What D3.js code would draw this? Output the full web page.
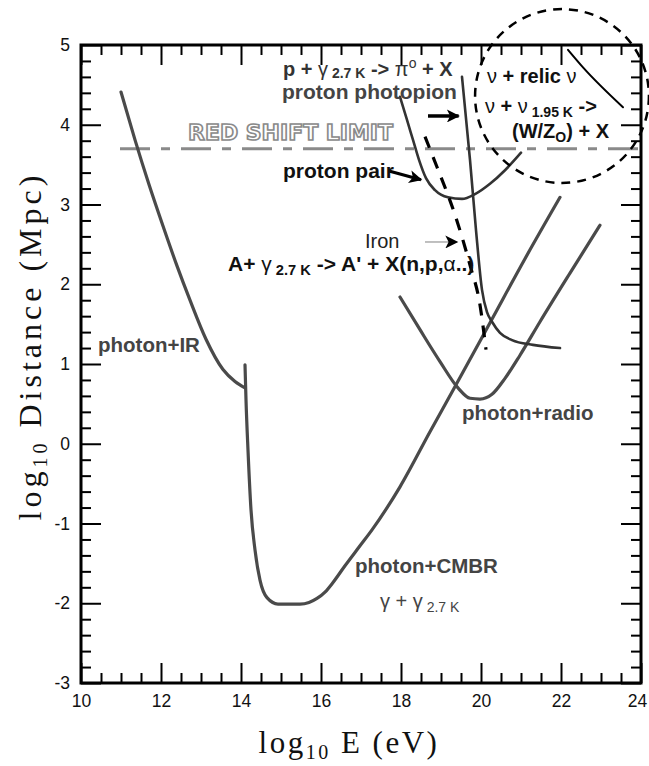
<!DOCTYPE html>
<html><head><meta charset="utf-8">
<script src="https://cdn.jsdelivr.net/npm/d3@7"></script>
<style>body{margin:0;background:#fff} svg{display:block}</style>
</head><body><svg id="c" width="649" height="766"></svg>
<script>
// ---- data (log10 E [eV], log10 Distance [Mpc]) ----
const xTicks = [10,12,14,16,18,20,22,24];
const yTicks = [-3,-2,-1,0,1,2,3,4,5];
const irE  = [11.0,11.35,11.7,12.05,12.4,12.725,13.125,13.55,13.85,14.1];
const irD  = [4.41,3.81,3.25,2.73,2.23,1.80,1.31,0.93,0.78,0.70];
const cmbE = [14.1,14.125,14.175,14.25,14.35,14.475,14.65,14.925,15.475,15.7,15.9,16.1,16.3,16.6,16.975,17.275,17.975,18.725,19.3,20.25,21.1,21.975];
const cmbD = [0.99,0.55,-0.08,-0.83,-1.33,-1.71,-1.93,-2.01,-2.01,-1.99,-1.94,-1.86,-1.74,-1.53,-1.28,-1.08,-0.54,0.15,0.67,1.54,2.32,3.09];
const radE = [17.975,18.475,18.975,19.425,19.725,19.975,20.275,20.6,20.975,21.475,22.225,22.975];
const radD = [1.84,1.43,1.03,0.70,0.57,0.56,0.62,0.82,1.11,1.53,2.14,2.74];
const pairE = [17.975,18.15,18.3,18.45,18.625,18.85,19.175,19.525,19.85,20.225,20.6,21.0];
const pairD = [4.35,4.06,3.81,3.56,3.33,3.18,3.09,3.07,3.13,3.26,3.43,3.65];
const pionE = [19.525,19.725,19.875,20.025,20.15,20.275,20.475,20.775,21.3,21.975];
const pionD = [4.60,3.56,2.68,1.93,1.65,1.53,1.39,1.30,1.24,1.20];
const ironE = [18.6,18.9,19.35,19.725,19.975,20.125];
const ironD = [3.85,3.47,2.87,2.24,1.74,1.18];
const nuE = [22.175,22.55,23.55];
const nuD = [4.94,4.72,4.22];
const redShiftD = 3.7;
const redShiftE = [10.975,24];
const nuCircle = {E:22.025, D:4.36, rD:1.09};

const svg = d3.select('#c');
const m={l:81,r:641,t:45,b:683};
const x = d3.scaleLinear().domain([10,24]).range([m.l,m.r]);
const y = d3.scaleLinear().domain([-3,5]).range([m.b,m.t]);
const sans = '"Liberation Sans", Arial, Helvetica, sans-serif';
const serif = '"Liberation Serif", "Times New Roman", serif';

const defs = svg.append('defs');
defs.append('marker').attr('id','ah2').attr('viewBox','0 0 10 10').attr('refX',9).attr('refY',5)
  .attr('markerWidth',16).attr('markerHeight',13).attr('markerUnits','userSpaceOnUse').attr('orient','auto')
  .append('path').attr('d','M0,0 L10,5 L0,10 L2.5,5 Z').attr('fill','#000');

// axes with inward ticks on all sides
const minorX = d3.range(10,24.01,0.5).filter(v=>Math.abs(v/2-Math.round(v/2))>1e-6);
const minorY = d3.range(-3,5.001,0.2).map(v=>+v.toFixed(2)).filter(v=>Math.abs(v-Math.round(v))>1e-6);
function styleAxis(g){ g.select('.domain').remove(); g.selectAll('line').attr('stroke','#000').attr('stroke-width',2); }
const fmt = d=>String(d);
svg.append('g').attr('transform',`translate(0,${m.b})`)
  .call(d3.axisBottom(x).tickValues(xTicks).tickSize(-20).tickPadding(12).tickFormat(fmt))
  .call(styleAxis).call(g=>g.selectAll('text').attr('font-family',sans).attr('font-size',17.5).attr('fill','#111')
     .filter(d=>d===24).attr('dx',-4));
svg.append('g').attr('transform',`translate(0,${m.b})`).call(d3.axisBottom(x).tickValues(minorX).tickSize(-10).tickFormat(''))
  .call(styleAxis);
svg.append('g').attr('transform',`translate(0,${m.t})`).call(d3.axisTop(x).tickValues(xTicks).tickSize(-20).tickFormat('')).call(styleAxis);
svg.append('g').attr('transform',`translate(0,${m.t})`).call(d3.axisTop(x).tickValues(minorX).tickSize(-10).tickFormat('')).call(styleAxis);
svg.append('g').attr('transform',`translate(${m.l},0)`)
  .call(d3.axisLeft(y).tickValues(yTicks).tickSize(-20).tickPadding(11).tickFormat(fmt))
  .call(styleAxis).call(g=>g.selectAll('text').attr('font-family',sans).attr('font-size',17.5).attr('fill','#111'));
svg.append('g').attr('transform',`translate(${m.l},0)`).call(d3.axisLeft(y).tickValues(minorY).tickSize(-10).tickFormat('')).call(styleAxis);
svg.append('g').attr('transform',`translate(${m.r},0)`).call(d3.axisRight(y).tickValues(yTicks).tickSize(-20).tickFormat('')).call(styleAxis);
svg.append('g').attr('transform',`translate(${m.r},0)`).call(d3.axisRight(y).tickValues(minorY).tickSize(-10).tickFormat('')).call(styleAxis);
svg.append('rect').attr('x',m.l).attr('y',m.t).attr('width',m.r-m.l).attr('height',m.b-m.t)
  .attr('fill','none').attr('stroke','#000').attr('stroke-width',3);

// axis titles
svg.append('text').attr('x',349).attr('y',753).attr('text-anchor','middle')
  .attr('font-family',serif).attr('font-size',31).attr('letter-spacing',2.5).attr('fill','#111')
  .call(t=>{t.append('tspan').text('log');t.append('tspan').attr('font-size',20).attr('dy',6).text('10');
            t.append('tspan').attr('dy',-6).text(' E (eV)');});
svg.append('text').attr('transform','translate(41,346) rotate(-90)').attr('text-anchor','middle')
  .attr('font-family',serif).attr('font-size',32).attr('letter-spacing',4).attr('fill','#111')
  .call(t=>{t.append('tspan').text('log');t.append('tspan').attr('font-size',20).attr('dy',6).text('10');
            t.append('tspan').attr('dy',-6).text(' Distance (Mpc)');});

// red shift limit line + label
svg.append('line').attr('x1',x(redShiftE[0])).attr('x2',x(redShiftE[1])).attr('y1',y(redShiftD)).attr('y2',y(redShiftD))
  .attr('stroke','#8a8a8a').attr('stroke-width',3).attr('stroke-dasharray','30,11,9,11');
svg.append('text').attr('x',x(12.675)).attr('y',y(3.81)).attr('font-family','"DejaVu Sans", sans-serif')
  .attr('font-weight','bold').attr('font-size',21).attr('fill','#fff').attr('stroke','#8a8a8a').attr('stroke-width',1.6)
  .attr('textLength',205).attr('lengthAdjust','spacingAndGlyphs').text('RED SHIFT LIMIT');

// curves
const line = d3.line().x(d=>x(d[0])).y(d=>y(d[1])).curve(d3.curveMonotoneX);
const zip=(a,b)=>a.map((v,i)=>[v,b[i]]);
function curve(E,D,color,w,dash){
  const p=svg.append('path').attr('d',line(zip(E,D))).attr('fill','none').attr('stroke',color)
   .attr('stroke-width',w).attr('stroke-linecap','round').attr('stroke-linejoin','round');
  if(dash) p.attr('stroke-dasharray',dash).attr('stroke-linecap','butt');
}
curve(irE,irD,'#4a4a4a',3.2);
curve(cmbE,cmbD,'#4a4a4a',3.2);
curve(radE,radD,'#4a4a4a',3.2);
curve(pairE,pairD,'#333',2.6);
curve(pionE,pionD,'#333',2.6);
curve(ironE,ironD,'#000',3.2,'12,10');
curve(nuE,nuD,'#000',2);

// neutrino circle
svg.append('circle').attr('cx',x(nuCircle.E)).attr('cy',y(nuCircle.D)).attr('r',y(0)-y(nuCircle.rD))
  .attr('fill','none').attr('stroke','#000').attr('stroke-width',2.5).attr('stroke-dasharray','9,7');

// arrows
function arrow(e1,d1,e2,d2,color,w){
  svg.append('line').attr('x1',x(e1)).attr('y1',y(d1)).attr('x2',x(e2)).attr('y2',y(d2))
    .attr('stroke',color).attr('stroke-width',w).attr('marker-end','url(#ah2)');
}
arrow(18.675,4.11,19.44,4.11,'#000',3.5);
arrow(17.7,3.42,18.5,3.31,'#000',3);
arrow(18.6,2.53,19.4,2.53,'#aaa',1.5);

// annotations
function label(e,d,parts,opt){
  const size=opt.size||20.5;
  const t=svg.append('text').attr('x',x(e)).attr('y',y(d)).attr('font-family',sans)
    .attr('font-size',size).attr('font-weight',opt.weight||'bold').attr('fill',opt.color||'#111');
  let shift=0;
  parts.forEach(p=>{
    const s=p.sub?(opt.sub||4):(p.sup?-8:0);
    const ts=t.append('tspan').attr('dy',s-shift).text(p.t);
    shift=s;
    if(p.sub||p.sup) ts.attr('font-size',size*0.7);
    if(p.w) ts.attr('font-weight',p.w);
  });
}
label(15.05,4.615,[{t:'p + '},{t:'γ',w:'normal'},{t:' 2.7 K',sub:true},{t:' -> '},{t:'π',w:'normal'},{t:'o',sup:true,w:'normal'},{t:' + X'}],{color:'#333',size:20,sub:2.5});
label(15.025,4.32,[{t:'proton photopion'}],{color:'#444',size:21});
label(15.05,3.33,[{t:'proton pair'}],{color:'#111',size:21});
label(17.1,2.455,[{t:'Iron'}],{weight:'normal',color:'#222',size:20});
label(13.675,2.17,[{t:'A+ '},{t:'γ',w:'normal'},{t:' 2.7 K',sub:true},{t:' -> A\' + X(n,p,'},{t:'α',w:'normal'},{t:'..)'}],{color:'#111',size:21});
label(10.425,1.15,[{t:'photon+IR'}],{color:'#444'});
label(19.525,0.30,[{t:'photon+radio'}],{color:'#444'});
label(16.85,-1.62,[{t:'photon+CMBR'}],{color:'#444'});
label(17.475,-2.06,[{t:'γ + γ'},{t:' 2.7 K',sub:true}],{weight:'normal',color:'#444',size:20});
label(20.15,4.52,[{t:'ν',w:'normal'},{t:' + relic '},{t:'ν',w:'normal'}],{color:'#111',size:20});
label(20.1,4.15,[{t:'ν',w:'normal'},{t:' + '},{t:'ν',w:'normal'},{t:' 1.95 K',sub:true},{t:' ->'}],{color:'#111',size:20});
label(20.775,3.83,[{t:'(W/Z'},{t:'O',sub:true},{t:') + X'}],{color:'#111',size:20});
</script></body></html>
